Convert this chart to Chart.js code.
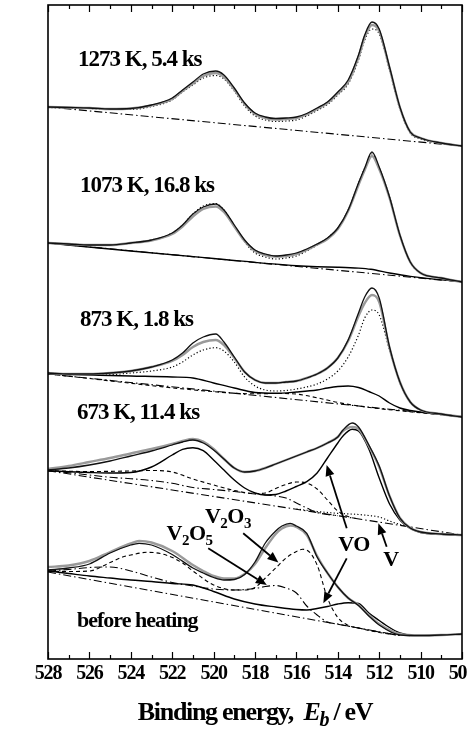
<!DOCTYPE html>
<html>
<head>
<meta charset="utf-8">
<script src="https://cdn.jsdelivr.net/npm/chart.js@4.4.0/dist/chart.umd.min.js"></script>
<style>
  html, body { margin: 0; padding: 0; background: #fff; }
  #wrap { width: 467px; height: 730px; position: relative; }
</style>
</head>
<body>
<div id="wrap"><canvas id="xps"></canvas></div>
<script>
// binding energy grids (eV)
const eTop = [528, 527, 526, 525, 524, 523, 522, 521.5, 521, 520.5, 519.9, 519.5, 519, 518.5, 518, 517.5, 517, 516.5, 516, 515.5, 515, 514.5, 514, 513.5, 513, 512.7, 512.35, 512, 511.5, 511, 510.5, 510, 509, 508];
const e673 = [528, 527, 526, 525, 524, 523, 522, 521.5, 521, 520.5, 520, 519.5, 519, 518.5, 518, 517.5, 517, 516.5, 516, 515.5, 515, 514.5, 514, 513.75, 513.3, 513, 512.5, 512, 511.5, 511, 510.5, 510, 509, 508];
const e0 = [528, 527, 526, 525, 524, 523.6, 523, 522, 521, 520.5, 520, 519.5, 519, 518.5, 518, 517.5, 517, 516.7, 516.3, 516, 515.5, 515, 514.5, 514, 513.5, 513, 512.5, 512, 511, 510, 509, 508];
const eEnds = [528, 508];

// 1273 K, 5.4 ks (intensity, arb. units, stacked)
const meas1273 = [552, 551.5, 551, 550, 550.5, 554, 561, 569, 577, 585, 588, 584, 571, 556, 546, 542, 540.5, 541, 542, 545.5, 551, 557, 567, 579, 604, 624, 637, 630, 592, 552, 527, 521, 516, 513];
const fit1273 = [552, 551.5, 551, 550, 550.5, 553.5, 560, 568, 575.5, 583, 586, 582, 569.5, 555, 545, 541, 539.5, 540, 541, 544.5, 550, 556, 565.5, 577, 602, 622, 634, 628, 591, 551.5, 527, 521, 516, 513];
const v1273 = [551.5, 551, 550.5, 549.5, 549.5, 552.5, 559, 567, 574, 581, 583.5, 580, 568, 553, 543, 539, 537.5, 538, 539, 543, 548.5, 554.5, 564, 575, 599, 619, 630, 625, 589, 550, 526, 520, 515.5, 513];
const bg1273 = [552, 513];

// 1073 K, 16.8 ks
const meas1073 = [416, 415, 414, 414, 416, 419, 426, 434, 445, 452, 455, 449, 434, 419, 409, 405, 403, 404, 406, 410, 415, 421, 431, 449, 476, 491, 507, 492, 462, 424, 397, 386, 381, 377];
const fit1073 = [416, 415, 414, 414, 416, 418.5, 425, 432.5, 442.5, 450, 452.5, 447, 432.5, 418, 408, 404, 402.5, 403, 405, 409, 414.5, 420, 430, 448, 474, 489, 503, 490, 461, 423.5, 397, 386, 381, 377];
const v1073 = [416, 415, 414, 414, 416, 419, 426, 434, 445, 453, 455.5, 449, 433, 417, 406, 402, 400, 401, 403, 408, 414, 421, 431, 449, 476, 491, 505, 491, 462, 424, 397, 386, 381, 377];
const eVo1073 = [528, 524, 520, 516, 515, 514, 513, 512.4, 511.5, 510.5, 508];
const vo1073 = [416, 408, 400.5, 393.2, 392.2, 391.8, 390.9, 389.7, 386, 382.6, 377.3];
const bg1073 = [416, 377];

// 873 K, 1.8 ks
const meas873 = [286, 285, 285, 286, 288, 292, 299, 306, 316, 322, 325, 317, 302, 287, 279, 276, 276, 277, 278, 281, 285, 291, 301, 319, 346, 362, 371, 361, 312, 277, 257, 249, 245, 242];
const fit873 = [286, 285, 285, 286, 288, 292, 298, 304, 312, 317, 319, 314, 301, 287, 279, 276, 276, 277, 278, 281, 285, 291, 301, 318, 343, 356, 364, 357, 311, 277, 257, 249, 245, 242];
const v873 = [285, 284.7, 284.5, 284.5, 286, 288, 292, 297, 304, 309, 311.3, 308, 297, 282, 273, 269, 268, 268.5, 270, 272, 275, 280, 288, 302, 324, 341, 349, 344, 309, 276, 257, 249, 245, 242.3];
const eVo873 = [528, 526, 524, 522, 521, 520, 519, 518, 517, 516, 515, 514.5, 514, 513.5, 513, 512.5, 512, 511.5, 511, 510.5, 510, 509, 508];
const vo873 = [285, 284, 283, 282, 281, 276, 271, 266.5, 265.7, 267, 269, 271, 272.5, 273, 271.5, 267.5, 263, 256, 251, 248.5, 247, 244.5, 242.3];
const eV2o3873 = [528, 519, 518, 517, 516, 515, 514, 513, 508];
const v2o3873 = [285, 265.8, 265.2, 265.5, 264.9, 261.2, 256.6, 253, 242.3];
const bg873 = [285, 242.3];

// 673 K, 11.4 ks
const meas673 = [189, 191, 194, 198, 203, 208, 214, 217, 219, 216, 209, 200, 191, 187, 188, 191, 195, 199, 203, 207, 211, 216, 222, 229, 236, 232, 214, 193, 163, 141, 131, 127, 125, 124];
const fit673 = [190, 193, 197, 201, 205.5, 210, 215, 218, 220, 217.5, 210, 200, 191, 187, 188, 191, 195, 199, 203, 207, 211, 216, 222, 228, 232, 230, 213, 192, 163, 141, 131, 127, 125, 124];
const vo673 = [188.3, 187.3, 186.5, 186, 186.5, 192, 204, 209.7, 211.3, 208.3, 199, 189, 179, 171, 166, 164, 164.5, 168, 172.5, 177.3, 186, 201, 216, 223, 229.7, 228, 210, 181, 155, 139, 130.5, 126.5, 124.7, 124];
const eV2o3673 = [528, 526, 524, 523, 522, 521, 520, 519, 518, 517.5, 517, 516.5, 516, 515.5, 515, 514.5, 514, 513.5, 513];
const v2o3673 = [188.3, 187.5, 188, 188.5, 187, 180, 174, 168.5, 165.5, 166, 170.5, 174.5, 177, 176, 170, 159, 148, 142.5, 140];
const eV2o5673 = [528, 527, 526, 525, 524, 523, 522, 521, 520, 519, 518, 517, 516.5, 516, 515.5, 515, 514.5, 514];
const v2o5673 = [188.3, 186.3, 184, 181.7, 180.3, 178.5, 175.7, 171.5, 169.5, 167.5, 165, 163, 161, 156, 151, 146.5, 144.5, 143.3];
const eV673 = [516, 515, 514, 513, 512.5, 512, 511.5, 511, 510.5];
const v673 = [150, 147.5, 145.7, 144.5, 143.5, 142, 138, 134.5, 132];
const bg673 = [188.3, 124];

// before heating
const meas0 = [89, 91, 95, 106, 114, 115.7, 114, 104.5, 91, 86, 81.5, 79, 79.5, 84.5, 97, 116, 128, 133, 135.7, 133, 125.7, 102, 86, 72, 61, 53.5, 43, 34, 24, 23.5, 24, 25];
const fit0 = [92, 93.5, 98, 107, 115.5, 118, 116.5, 108, 94, 88, 83, 80.5, 80.5, 85, 95, 111, 125, 130.5, 133.5, 132, 124, 103, 86, 72, 61, 54, 44, 35, 25, 23.5, 24, 25];
const eV2o30 = [528, 527, 526, 525, 524.4, 524, 523.2, 522.3, 521.5, 521, 520, 519, 518.5, 518, 517.5, 517, 516.5, 516, 515.7, 515.5, 515, 514.5, 514, 513.5, 513, 512, 511];
const v2o30 = [88, 87.5, 88, 96.5, 102, 104, 106.7, 104, 96, 88, 74, 69, 69, 71.5, 81, 91, 101, 107.5, 109.7, 109, 94, 61, 41.5, 33.7, 31, 26.5, 23.5];
const eV2o50 = [528, 527, 526, 525, 524, 523, 522, 521, 520, 519, 518, 517.5, 517, 516.5, 516, 515.5, 515, 514.5, 514, 513, 512, 511];
const v2o50 = [88, 89.5, 91.5, 92, 88, 82, 76.5, 73, 70, 69, 70.5, 72.5, 73.5, 71, 66, 53, 44, 37, 35, 31, 27, 23.5];
const eVo0 = [528, 527, 526, 525, 524, 523, 522, 521, 520, 519, 518, 517, 516, 515.5, 515, 514.5, 514, 513.5, 513, 512.5, 512, 511.5, 511, 510.5];
const vo0 = [88, 85.5, 83, 81, 79, 77.5, 75.5, 74, 67.5, 60, 55, 52, 49.5, 49, 50.5, 52.5, 55, 56.3, 55.5, 46, 38.5, 31.5, 26, 23.5];
const eBg0 = [528, 511];
const bg0 = [87, 23.5];

// axis ticks
const majorTicks = [528, 526, 524, 522, 520, 518, 516, 514, 512, 510, 508];
const minorTicks = [527, 525, 523, 521, 519, 517, 515, 513, 511, 509];
const tickLabels = ['528', '526', '524', '522', '520', '518', '516', '514', '512', '510', '508'];

// annotations (energy, intensity)
const panelText = ['1273 K, 5.4 ks', '1073 K, 16.8 ks', '873 K, 1.8 ks', '673 K, 11.4 ks', 'before heating'];
const panelE = [526.55, 526.45, 526.45, 526.6, 526.6];
const panelI = [593, 467, 333, 240, 32];
const speciesText = [['V', '2', 'O', '5'], ['V', '2', 'O', '3'], ['VO'], ['V']];
const speciesE = [522.27, 520.42, 513.98, 511.8];
const speciesI = [119, 136.3, 108, 93];
const arrowFrom = [[520.26, 110.7], [518.57, 125.7], [513.57, 130.7], [513.57, 100.7], [511.64, 112.3]];
const arrowTo = [[517.43, 74], [516.87, 96.5], [514.54, 194], [514.70, 55.7], [512.04, 135.7]];

const STY = {
  meas: { borderColor: '#111', borderWidth: 1.3, borderDash: [], order: 1 },
  fit: { borderColor: '#9a9a9a', borderWidth: 2.4, borderDash: [], order: 2 },
  solid: { borderColor: '#000', borderWidth: 1.4, borderDash: [], order: 3 },
  dot: { borderColor: '#000', borderWidth: 1.2, borderDash: [1.2, 2.2], order: 3 },
  dash: { borderColor: '#000', borderWidth: 1.1, borderDash: [4, 3], order: 3 },
  dashdot: { borderColor: '#000', borderWidth: 1.1, borderDash: [8, 3, 1.5, 3], order: 3 }
};

function series(label, E, I, style) {
  return Object.assign({
    label: label,
    data: E.map((e, i) => ({ x: e, y: I[i] })),
    showLine: true,
    pointRadius: 0,
    cubicInterpolationMode: 'monotone',
    fill: false
  }, STY[style]);
}

const datasets = [
  series('1273 meas', eTop, meas1273, 'meas'),
  series('1273 fit', eTop, fit1273, 'fit'),
  series('1273 V', eTop, v1273, 'dot'),
  series('1273 bg', eEnds, bg1273, 'dashdot'),

  series('1073 meas', eTop, meas1073, 'meas'),
  series('1073 fit', eTop, fit1073, 'fit'),
  series('1073 V', eTop, v1073, 'dot'),
  series('1073 VO', eVo1073, vo1073, 'solid'),
  series('1073 bg', eEnds, bg1073, 'dashdot'),

  series('873 meas', eTop, meas873, 'meas'),
  series('873 fit', eTop, fit873, 'fit'),
  series('873 V', eTop, v873, 'dot'),
  series('873 VO', eVo873, vo873, 'solid'),
  series('873 V2O3', eV2o3873, v2o3873, 'dash'),
  series('873 bg', eEnds, bg873, 'dashdot'),

  series('673 meas', e673, meas673, 'meas'),
  series('673 fit', e673, fit673, 'fit'),
  series('673 VO', e673, vo673, 'solid'),
  series('673 V2O3', eV2o3673, v2o3673, 'dash'),
  series('673 V2O5', eV2o5673, v2o5673, 'dashdot'),
  series('673 V', eV673, v673, 'dot'),
  series('673 bg', eEnds, bg673, 'dashdot'),

  series('0 meas', e0, meas0, 'meas'),
  series('0 fit', e0, fit0, 'fit'),
  series('0 V2O3', eV2o30, v2o30, 'dash'),
  series('0 V2O5', eV2o50, v2o50, 'dashdot'),
  series('0 VO', eVo0, vo0, 'solid'),
  series('0 bg', eBg0, bg0, 'dashdot')
];

const SERIF = '"Liberation Serif", "DejaVu Serif", serif';

function runs(ctx, parts, x, y) {
  let cx = x;
  parts.forEach(p => {
    ctx.font = p[1];
    ctx.fillText(p[0], cx, y + p[2]);
    cx += ctx.measureText(p[0]).width;
  });
  return cx - x;
}

const overlay = {
  id: 'overlay',
  afterDraw(chart) {
    const { ctx, chartArea: a, scales: { x, y } } = chart;
    ctx.save();
    ctx.strokeStyle = '#000';
    ctx.fillStyle = '#000';
    ctx.setLineDash([]);

    // frame
    ctx.lineWidth = 1.6;
    ctx.strokeRect(a.left, a.top, a.right - a.left, a.bottom - a.top);

    // inward ticks top and bottom
    ctx.lineWidth = 1.2;
    const tick = (v, len) => {
      const px = Math.round(x.getPixelForValue(v)) + 0.5;
      ctx.beginPath();
      ctx.moveTo(px, a.bottom); ctx.lineTo(px, a.bottom - len);
      ctx.moveTo(px, a.top); ctx.lineTo(px, a.top + len);
      ctx.stroke();
    };
    majorTicks.forEach(v => tick(v, 7));
    minorTicks.forEach(v => tick(v, 4));

    // tick labels
    ctx.textAlign = 'center';
    ctx.textBaseline = 'alphabetic';
    ctx.font = 'bold 20px ' + SERIF;
    ctx.letterSpacing = '-1.2px';
    majorTicks.forEach((v, i) => {
      ctx.fillText(tickLabels[i], x.getPixelForValue(v), a.bottom + 20);
    });

    // axis title
    ctx.textAlign = 'left';
    ctx.letterSpacing = '-1.3px';
    const title = [
      ['Binding energy,  ', 'bold 26px ' + SERIF, 0],
      ['E', 'italic bold 26px ' + SERIF, 0],
      ['b', 'italic bold 20px ' + SERIF, 6],
      [' / eV', 'bold 26px ' + SERIF, 0]
    ];
    let w = 0;
    title.forEach(p => { ctx.font = p[1]; w += ctx.measureText(p[0]).width; });
    runs(ctx, title, (a.left + a.right) / 2 - w / 2, a.bottom + 61);

    // panel labels
    ctx.letterSpacing = '-1px';
    panelText.forEach((t, i) => {
      const size = i === 4 ? 22 : 23;
      ctx.font = 'bold ' + size + 'px ' + SERIF;
      ctx.fillText(t, x.getPixelForValue(panelE[i]), y.getPixelForValue(panelI[i]));
    });

    // species labels with subscripts
    ctx.letterSpacing = '-0.5px';
    speciesText.forEach((parts, i) => {
      const r = parts.map(p => /\d/.test(p)
        ? [p, 'bold 15px ' + SERIF, 5]
        : [p, 'bold 22px ' + SERIF, 0]);
      runs(ctx, r, x.getPixelForValue(speciesE[i]), y.getPixelForValue(speciesI[i]));
    });

    // arrows
    ctx.lineWidth = 1.8;
    arrowFrom.forEach((f, i) => {
      const x1 = x.getPixelForValue(f[0]), y1 = y.getPixelForValue(f[1]);
      const x2 = x.getPixelForValue(arrowTo[i][0]), y2 = y.getPixelForValue(arrowTo[i][1]);
      const ang = Math.atan2(y2 - y1, x2 - x1);
      const hl = 11, hw = 4.5;
      const bx = x2 - hl * Math.cos(ang), by = y2 - hl * Math.sin(ang);
      ctx.beginPath();
      ctx.moveTo(x1, y1); ctx.lineTo(bx, by);
      ctx.stroke();
      ctx.beginPath();
      ctx.moveTo(x2, y2);
      ctx.lineTo(bx + hw * Math.sin(ang), by - hw * Math.cos(ang));
      ctx.lineTo(bx - hw * Math.sin(ang), by + hw * Math.cos(ang));
      ctx.closePath();
      ctx.fill();
    });
    ctx.restore();
  }
};

new Chart(document.getElementById('xps'), {
  type: 'scatter',
  data: { datasets: datasets },
  options: {
    responsive: true,
    maintainAspectRatio: false,
    devicePixelRatio: 1,
    animation: false,
    layout: { padding: { left: 48, right: 5, top: 5, bottom: 71 } },
    plugins: { legend: { display: false }, tooltip: { enabled: false } },
    scales: {
      x: { type: 'linear', reverse: true, min: 508, max: 528, display: false },
      y: { type: 'linear', min: 0, max: 654, display: false }
    }
  },
  plugins: [overlay]
});
</script>
</body>
</html>
